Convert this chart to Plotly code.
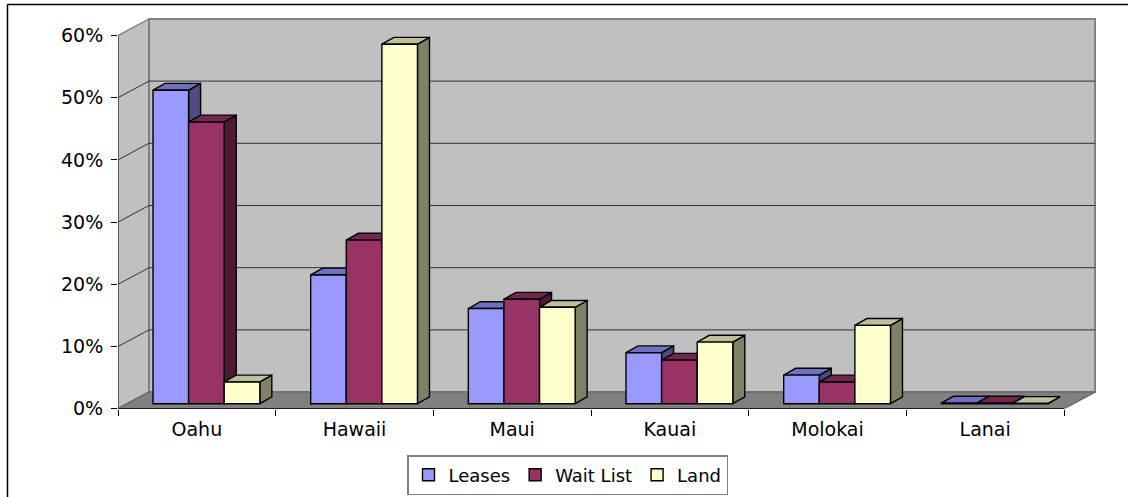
import plotly.graph_objects as go

categories = ["Oahu", "Hawaii", "Maui", "Kauai", "Molokai", "Lanai"]
leases = [50.4, 20.7, 15.3, 8.2, 4.6, 0.1]
wait_list = [45.3, 26.3, 16.8, 7.0, 3.5, 0.1]
land = [3.5, 57.8, 15.5, 9.9, 12.6, 0.05]
y_ticks = [0, 10, 20, 30, 40, 50, 60]
y_labels = ["0%", "10%", "20%", "30%", "40%", "50%", "60%"]

W, H = 1128, 497
MB = 60  # explicit bottom margin reserved for the legend push
HP = H - MB
PX_CAT = 157.67
PX_PCT = 6.22
X0_PX, Y0_PX = 118, 408.7
BACK_X = 31 / PX_CAT
BACK_Y = 16.6 / PX_PCT
DEPTH_X = 12 / PX_CAT
DEPTH_Y = 6.8 / PX_PCT
BASE = 5.0 / PX_PCT
BAR_W = 35.6 / PX_CAT
BAR_OFF = 35.0 / PX_CAT
XR = [0, (1096 + 1 - X0_PX) / PX_CAT]
YR = [0, Y0_PX / PX_PCT]
FONT = "DejaVu Sans"
FS = 19

series = [
    ("Leases", leases, "#9999FF", "#7070C0", "#4D4D80"),
    ("Wait List", wait_list, "#993366", "#732650", "#4D1A33"),
    ("Land", land, "#FFFFCC", "#BFBF99", "#808066"),
]

fig = go.Figure()


def poly(xs, ys, color, ax, line="black", lw=1.4):
    fig.add_trace(go.Scatter(x=xs, y=ys, mode="lines", fill="toself", fillcolor=color,
                             line=dict(color=line, width=lw), hoverinfo="skip",
                             showlegend=False, xaxis=ax[0], yaxis=ax[1]))


def seg(xs, ys, color, lw, ax=("x", "y")):
    fig.add_trace(go.Scatter(x=xs, y=ys, mode="lines", line=dict(color=color, width=lw),
                             hoverinfo="skip", showlegend=False, xaxis=ax[0], yaxis=ax[1]))


top = y_ticks[-1]
n = len(categories)
# walls and floor
poly([0, BACK_X, BACK_X, 0, 0], [0, BACK_Y, top + BACK_Y, top, 0], "#C0C0C0", ("x", "y"), "#808080", 1.5)
poly([BACK_X, n + BACK_X, n + BACK_X, BACK_X, BACK_X], [BACK_Y, BACK_Y, top + BACK_Y, top + BACK_Y, BACK_Y],
     "#C0C0C0", ("x", "y"), "#808080", 2)
for t in y_ticks[1:-1]:
    seg([0, BACK_X, n + BACK_X], [t, t + BACK_Y, t + BACK_Y], "#303030", 1)
poly([0, n, n + BACK_X, BACK_X, 0], [0, 0, BACK_Y, BACK_Y, 0], "#808080", ("x", "y"), "#6A6A6A", 1.5)
seg([0, 0], [0, top], "#303030", 1)
seg([0, n], [0, 0], "black", 1.5)

axes = [("x", "y"), ("x2", "y2"), ("x3", "y3"), ("x4", "y4")]
for k, (name, vals, front, topc, sidec) in enumerate(series):
    xl = [i + BAR_OFF + k * BAR_W for i in range(n)]
    tx, ty, sx, sy = [], [], [], []
    for x, v in zip(xl, vals):
        yt = BASE + v
        xr = x + BAR_W
        tx += [x, x + DEPTH_X, xr + DEPTH_X, xr, x, None]
        ty += [yt, yt + DEPTH_Y, yt + DEPTH_Y, yt, yt, None]
        sx += [xr, xr + DEPTH_X, xr + DEPTH_X, xr, xr, None]
        sy += [BASE, BASE + DEPTH_Y, yt + DEPTH_Y, yt, BASE, None]
    poly(sx, sy, sidec, axes[k])
    poly(tx, ty, topc, axes[k])
    fig.add_trace(go.Bar(x=[x + BAR_W / 2 for x in xl], y=vals, base=BASE, width=BAR_W, name=name,
                         marker=dict(color=front, line=dict(color="black", width=1.4)),
                         xaxis=axes[k + 1][0], yaxis=axes[k + 1][1]))

dom_x = [X0_PX / W, (1096 + 1) / W]
dom_y = [1 - Y0_PX / HP, 1]
layout = dict(
    template="none",
    width=W, height=H, margin=dict(l=0, r=0, t=0, b=MB, pad=0), autosize=False,
    paper_bgcolor="white", plot_bgcolor="rgba(0,0,0,0)", barmode="overlay",
    font=dict(family=FONT, size=FS, color="black"),
    xaxis=dict(domain=dom_x, range=XR, showgrid=False, zeroline=False, showline=False, automargin=False,
               tickmode="array", tickvals=[i + 0.5 for i in range(n)], ticktext=categories,
               ticks="", ticklabelstandoff=7, tickfont=dict(family=FONT, size=FS),
               minor=dict(tickmode="array", tickvals=list(range(n + 1)), ticks="outside",
                          ticklen=6, tickcolor="black", tickwidth=1, showgrid=False)),
    yaxis=dict(domain=dom_y, range=YR, showgrid=False, zeroline=False, showline=False, automargin=False,
               tickmode="array", tickvals=y_ticks, ticktext=y_labels, ticks="outside", ticklen=6,
               tickcolor="black", tickwidth=1, ticklabelstandoff=4, tickfont=dict(family=FONT, size=FS)),
    legend=dict(orientation="h", xref="container", yref="container", x=407 / W, y=2 / H,
                xanchor="left", yanchor="bottom",
                bgcolor="white", bordercolor="#808080", borderwidth=1.5,
                font=dict(family=FONT, size=18), itemwidth=30, tracegroupgap=0),
    shapes=[
        dict(type="line", xref="paper", yref="paper", x0=7.5 / W, x1=7.5 / W, y0=-MB / HP, y1=1 - 4.5 / HP,
             line=dict(color="black", width=1.5)),
        dict(type="line", xref="paper", yref="paper", x0=7.5 / W, x1=1, y0=1 - 4.5 / HP, y1=1 - 4.5 / HP,
             line=dict(color="black", width=1.5)),
    ],
)
for i in (2, 3, 4):
    layout[f"xaxis{i}"] = dict(overlaying="x", range=XR, visible=False, anchor=f"y{i}")
    layout[f"yaxis{i}"] = dict(overlaying="y", range=YR, visible=False, anchor=f"x{i}")
fig.update_layout(**layout)
fig.write_html("out.html", config={"displayModeBar": False},
               post_script="document.body.style.margin='0';document.documentElement.style.overflow='hidden';")
